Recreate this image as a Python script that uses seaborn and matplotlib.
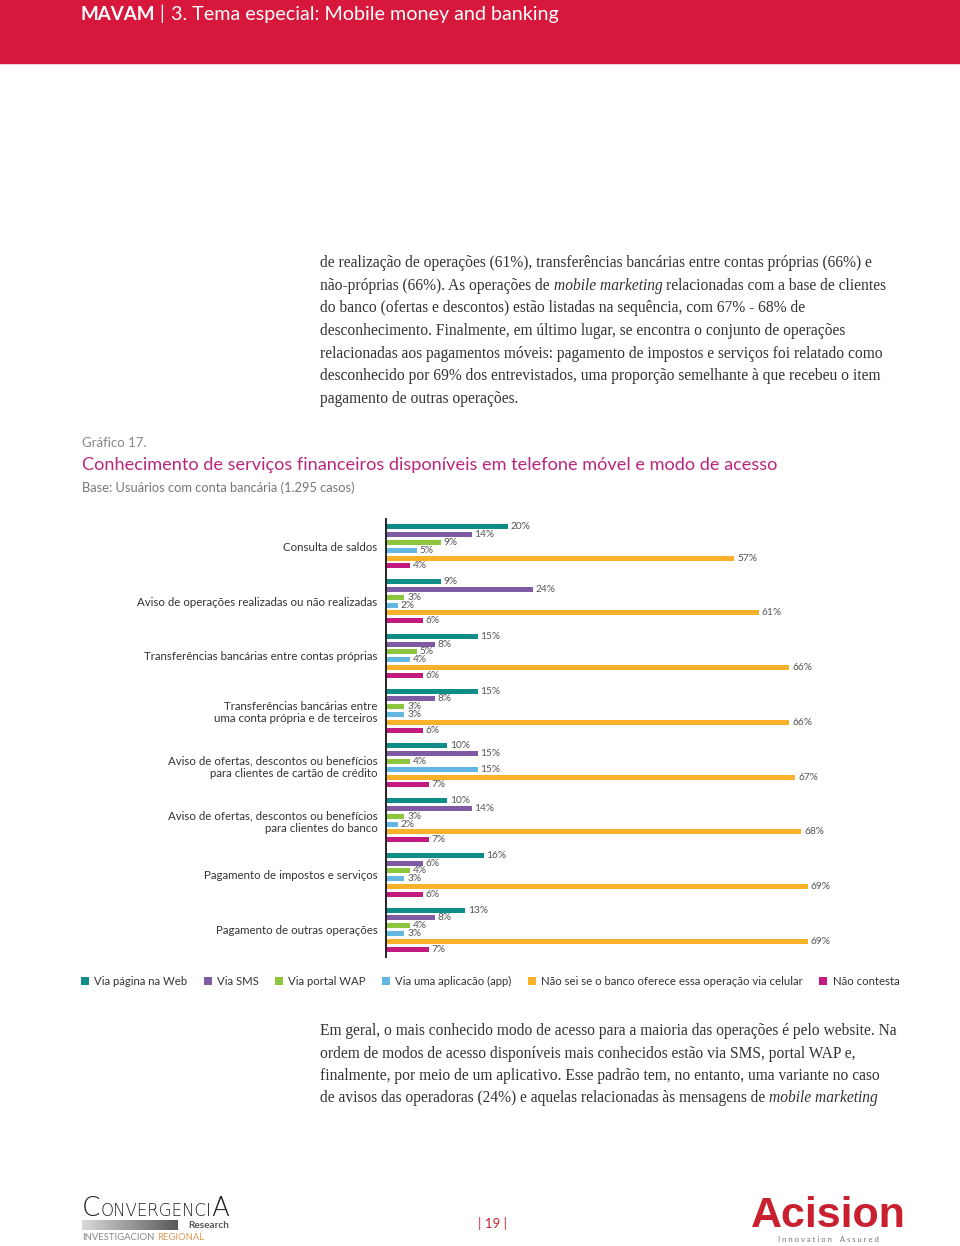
import numpy as np
import pandas as pd
import matplotlib
matplotlib.use("Agg")
import matplotlib.pyplot as plt
import seaborn as sns

# dados do gráfico 17
categorias = [
    "Consulta de saldos",
    "Aviso de operações realizadas ou não realizadas",
    "Transferências bancárias entre contas próprias",
    "Transferências bancárias entre\numa conta própria e de terceiros",
    "Aviso de ofertas, descontos ou benefícios\npara clientes de cartão de crédito",
    "Aviso de ofertas, descontos ou benefícios\npara clientes do banco",
    "Pagamento de impostos e serviços",
    "Pagamento de outras operações",
]
modos = [
    "Via página na Web", "Via SMS", "Via portal WAP", "Via uma aplicacão (app)",
    "Não sei se o banco oferece essa operação via celular", "Não contesta",
]
via_web = [20, 9, 15, 15, 10, 10, 16, 13]
via_sms = [14, 24, 8, 8, 15, 14, 6, 8]
via_wap = [9, 3, 5, 3, 4, 3, 4, 4]
via_app = [5, 2, 4, 3, 15, 2, 3, 3]
nao_sei = [57, 61, 66, 66, 67, 68, 69, 69]
nao_contesta = [4, 6, 6, 6, 7, 7, 6, 7]
cores = ["#0E8C88", "#7E5AA2", "#8CC63F", "#62B7E3", "#F8B128", "#C21A80"]

series = [via_web, via_sms, via_wap, via_app, nao_sei, nao_contesta]
linhas = []
for modo, vals in zip(modos, series):
    for cat, v in zip(categorias, vals):
        linhas.append({"Operação": cat, "Modo": modo, "Valor": v})
df = pd.DataFrame(linhas)

texto_topo = [
    [("de realização de operações (61%), transferências bancárias entre contas próprias (66%) e", "normal")],
    [("não-próprias (66%). As operações de", "normal"), ("mobile marketing", "italic"),
     ("relacionadas com a base de clientes", "normal")],
    [("do banco (ofertas e descontos) estão listadas na sequência, com 67% - 68% de", "normal")],
    [("desconhecimento. Finalmente, em último lugar, se encontra o conjunto de operações", "normal")],
    [("relacionadas aos pagamentos móveis: pagamento de impostos e serviços foi relatado como", "normal")],
    [("desconhecido por 69% dos entrevistados, uma proporção semelhante à que recebeu o item", "normal")],
    [("pagamento de outras operações.", "normal")],
]
texto_baixo = [
    [("Em geral, o mais conhecido modo de acesso para a maioria das operações é pelo website. Na", "normal")],
    [("ordem de modos de acesso disponíveis mais conhecidos estão via SMS, portal WAP e,", "normal")],
    [("finalmente, por meio de um aplicativo. Esse padrão tem, no entanto, uma variante no caso", "normal")],
    [("de avisos das operadoras (24%) e aquelas relacionadas às mensagens de", "normal"),
     ("mobile marketing", "italic")],
]

#%%
sns.set_theme(style="white")
plt.rcParams["font.family"] = ["Lato", "DejaVu Sans"]

W, H = 960, 1246
fig = plt.figure(figsize=(W / 100, H / 100), dpi=100)
renderer = fig.canvas.get_renderer()

# camada de fundo em coordenadas de pixel
bg = fig.add_axes([0, 0, 1, 1], zorder=0)
bg.set_xlim(0, W)
bg.set_ylim(H, 0)
bg.axis("off")


def corrida(x, y, runs, sep=True, **kw):
    """escreve pedaços de texto em sequência (para misturar itálico)"""
    t1 = bg.text(0, 0, "n n", **kw)
    t2 = bg.text(0, 0, "nn", **kw)
    esp = t1.get_window_extent(renderer).width - t2.get_window_extent(renderer).width
    t1.remove()
    t2.remove()
    for txt, estilo in runs:
        t = bg.text(x, y, txt, fontstyle=estilo, **kw)
        x += t.get_window_extent(renderer).width + (esp if sep else 0)
    return x


# cabeçalho vermelho
bg.add_patch(plt.Rectangle((0, 0), W, 63, color="#D7173B", zorder=1))
bg.text(80, 20, "MAVAM", color="white", fontsize=13.5, fontweight="bold", va="baseline", zorder=2)
bg.text(159, 20, "|", color="white", fontsize=13.5, va="baseline", zorder=2)
bg.text(171, 20, "3. Tema especial: Mobile money and banking", color="white", fontsize=14.2,
        va="baseline", zorder=2)

serif = dict(family=["Liberation Serif", "DejaVu Serif"], fontsize=11.2, color="#333333", va="baseline")
for i, runs in enumerate(texto_topo):
    corrida(320, 267 + i * 22.7, runs, **serif)
for i, runs in enumerate(texto_baixo):
    corrida(320, 1035 + i * 22.5, runs, **serif)

# títulos
bg.text(82, 443, "Gráfico 17.", fontsize=9.5, color="#888888", va="center")
bg.text(82, 465, "Conhecimento de serviços financeiros disponíveis em telefone móvel e modo de acesso",
        fontsize=13.1, color="#B8267E", va="center")
bg.text(82, 488, "Base: Usuários com conta bancária (1.295 casos)", fontsize=9.3, color="#777777", va="center")

#%%
# gráfico de barras
left, top = 386, 519
ax = fig.add_axes([left / W, 1 - 957 / H, 80 * 6.11 / W, 438 / H], zorder=3)
ax.patch.set_alpha(0)
sns.barplot(data=df, x="Valor", y="Operação", hue="Modo", order=categorias, hue_order=modos,
            palette=cores, saturation=1, orient="h", width=0.855, gap=0.36, linewidth=0, ax=ax)
for c in ax.containers:
    ax.bar_label(c, fmt="{:.0f}%", padding=2, fontsize=7.3, color="#555555")
ax.set_xlim(0, 80)
ax.set_xlabel("")
ax.set_ylabel("")
ax.set_xticks([])
ax.tick_params(axis="y", length=0, pad=6, labelsize=8.3, labelcolor="#333333")
for s in ["top", "right", "bottom"]:
    ax.spines[s].set_visible(False)
ax.spines["left"].set_color("#222222")
ax.spines["left"].set_linewidth(1.4)

handles, labels = ax.get_legend_handles_labels()
ax.get_legend().remove()
fig.legend(handles, labels, loc="center left", bbox_to_anchor=(81 / W, 1 - 981 / H), ncol=6,
           frameon=False, fontsize=8.2, handlelength=0.7, handleheight=0.7, handletextpad=0.45,
           columnspacing=1.45, borderpad=0, borderaxespad=0, labelcolor="#333333")

#%%
# rodapé
x = corrida(82, 1216, [("C", "normal")], sep=False, family=["DejaVu Sans"], fontsize=19,
            fontweight="light", color="#222222", va="baseline")
x = corrida(x, 1216, [("ONVERGENCI", "normal")], sep=False, family=["DejaVu Sans"], fontsize=12,
            fontweight="light", color="#222222", va="baseline")
corrida(x, 1216, [("A", "normal")], sep=False, family=["DejaVu Sans"], fontsize=19,
        fontweight="light", color="#222222", va="baseline")
grad = np.linspace(0.85, 0.35, 100).reshape(1, -1)
bg.imshow(grad, cmap="gray", vmin=0, vmax=1, extent=(82, 178, 1230, 1220), aspect="auto", zorder=1)
bg.text(229, 1225.5, "Research", fontsize=7.2, fontweight="bold", color="#555555", ha="right", va="center")
x = corrida(82, 1237.5, [("INVESTIGACION", "normal")], fontsize=6.8, color="#888888", va="center")
bg.text(x, 1237.5, "REGIONAL", fontsize=6.8, color="#E09A55", va="center")

bg.text(492, 1223, "| 19 |", fontsize=9.5, color="#C8202F", ha="center", va="center")

bg.text(828, 1216, "Acision", family=["Liberation Sans Narrow", "Liberation Sans"], fontsize=31,
        fontweight="bold", color="#C8202F", ha="center", va="center")
bg.text(828, 1240, "I n n o v a t i o n    A s s u r e d", fontsize=5.5, color="#777777",
        ha="center", va="center")

fig.savefig("out.png", dpi=100)
